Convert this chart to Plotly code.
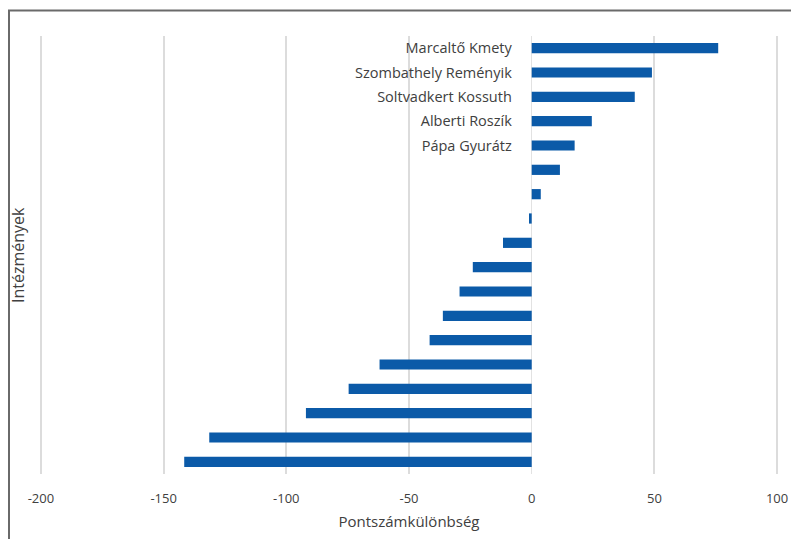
import plotly.graph_objects as go

# Institutions, top to bottom; only the five best are named on the axis
labels = [
    "Marcaltő Kmety",
    "Szombathely Reményik",
    "Soltvadkert Kossuth",
    "Alberti Roszík",
    "Pápa Gyurátz",
    "", "", "", "", "", "", "", "", "", "", "", "", "",
]
# Score difference per institution
values = [76, 49, 42, 24.5, 17.5, 11.5, 3.7, -1.1, -11.7, -24, -29.4,
          -36.2, -41.6, -62, -74.6, -92, -131.4, -141.6]

x_ticks = [-200, -150, -100, -50, 0, 50, 100]

positions = list(range(len(values)))

fig = go.Figure(
    go.Bar(
        x=values,
        y=positions,
        orientation="h",
        marker=dict(color="#0b5aa8", line=dict(width=0)),
        width=0.42,
        hoverinfo="x",
    )
)

axis_font = dict(family="Open Sans, sans-serif", size=13, color="#404040")

# x range padded a little so the -200 and 100 grid lines are drawn
x_min, x_max = -202, 102
plot_left, plot_right = 36, 782

fig.update_layout(
    width=791,
    height=539,
    margin=dict(l=plot_left, r=791 - plot_right, t=36, b=65),
    paper_bgcolor="white",
    plot_bgcolor="white",
    showlegend=False,
    bargap=0.58,
    xaxis=dict(
        range=[x_min, x_max],
        tickvals=x_ticks,
        ticktext=[str(v) for v in x_ticks],
        tickfont=axis_font,
        showgrid=True,
        gridcolor="#dcdcdc",
        gridwidth=1.5,
        zeroline=True,
        zerolinecolor="#e2e2e2",
        zerolinewidth=1,
        showline=False,
        ticks="outside",
        ticklen=12,
        tickcolor="rgba(0,0,0,0)",
        automargin=False,
        title=dict(
            text="Pontszámkülönbség",
            font=dict(family="Open Sans, sans-serif", size=15, color="#404040"),
            standoff=10,
        ),
        fixedrange=True,
    ),
    yaxis=dict(
        range=[len(values) - 0.5, -0.5],
        tickvals=positions,
        ticktext=labels,
        tickfont=dict(family="Open Sans, sans-serif", size=14.5, color="#404040"),
        anchor="free",
        position=(0 - x_min) / (x_max - x_min),
        side="left",
        showgrid=False,
        zeroline=False,
        showline=False,
        ticks="outside",
        ticklen=17,
        tickcolor="rgba(0,0,0,0)",
        automargin=False,
        fixedrange=True,
    ),
    annotations=[
        dict(
            text="Intézmények",
            xref="paper",
            yref="paper",
            x=(18 - plot_left) / (plot_right - plot_left),
            y=0.5,
            xanchor="center",
            yanchor="middle",
            textangle=-90,
            showarrow=False,
            font=dict(family="Open Sans, sans-serif", size=16, color="#404040"),
        )
    ],
    shapes=[
        # outer frame (top and left edges visible)
        dict(
            type="rect",
            xref="paper",
            yref="paper",
            x0=(9 - plot_left) / (plot_right - plot_left),
            x1=1.2,
            y0=-0.3,
            y1=1 + (36 - 10.5) / 438,
            line=dict(color="#6a6a6a", width=2),
            fillcolor="rgba(0,0,0,0)",
            layer="below",
        )
    ],
)

fig.write_html("out.html")
